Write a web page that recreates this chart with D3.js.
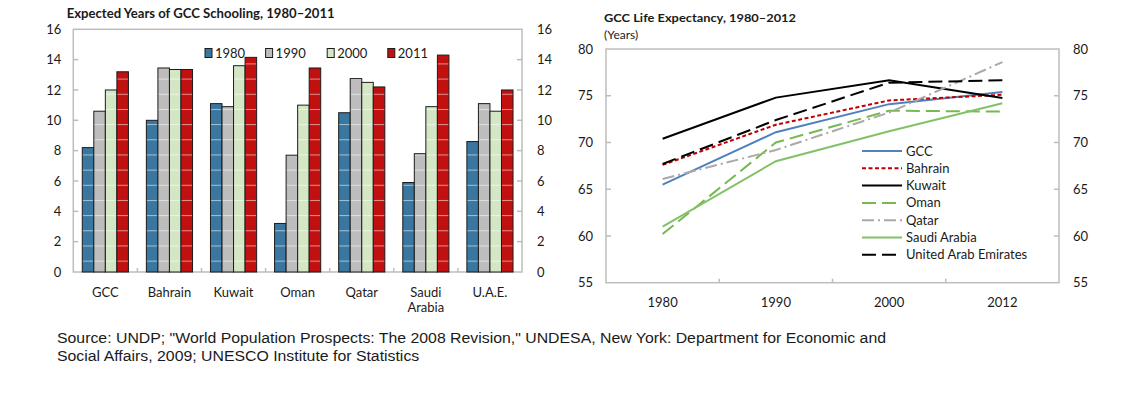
<!DOCTYPE html>
<html>
<head>
<meta charset="utf-8">
<script src="https://cdn.jsdelivr.net/npm/d3@7/dist/d3.min.js"></script>
<style>
  html, body { margin: 0; padding: 0; background: #fff; }
  svg { display: block; }
  text { font-family: Lato, "Open Sans", sans-serif; fill: #1a1a1a; }
</style>
</head>
<body>
<svg id="chart" width="1137" height="394"></svg>
<script>
// ---------- Data: Expected years of schooling ----------
const categories = ["GCC", "Bahrain", "Kuwait", "Oman", "Qatar", "Saudi Arabia", "U.A.E."];
const schoolSeries = ["1980", "1990", "2000", "2011"];
const school1980 = [8.2, 10.0, 11.1, 3.2, 10.5, 5.9, 8.6];
const school1990 = [10.6, 13.45, 10.9, 7.7, 12.75, 7.8, 11.1];
const school2000 = [12.0, 13.35, 13.6, 11.0, 12.5, 10.9, 10.6];
const school2011 = [13.2, 13.35, 14.15, 13.45, 12.2, 14.3, 12.0];
const schoolTicks = [0, 2, 4, 6, 8, 10, 12, 14, 16];

// ---------- Data: Life expectancy ----------
const leYears = ["1980", "1990", "2000", "2012"];
const leGCC     = [65.5, 71.1, 74.1, 75.4];
const leBahrain = [67.6, 71.9, 74.5, 75.1];
const leKuwait  = [70.4, 74.8, 76.65, 74.75];
const leOman    = [60.2, 70.0, 73.4, 73.3];
const leQatar   = [66.1, 69.2, 73.2, 78.6];
const leSaudi   = [61.0, 68.0, 71.2, 74.2];
const leUAE     = [67.7, 72.4, 76.4, 76.65];
const leTicks = [55, 60, 65, 70, 75, 80];

const svg = d3.select("#chart");
const frameColor = "#bdbdbd";
const fs = 13;

// =============== LEFT: bar chart ===============
const L = { left: 73.3, right: 522, top: 29.3, bottom: 272 };
const x0 = d3.scaleBand().domain(categories).range([L.left, L.right]).paddingInner(0.28).paddingOuter(0.14);
const x1 = d3.scaleBand().domain(schoolSeries).range([0, x0.bandwidth()]).padding(0);
const yL = d3.scaleLinear().domain([0, 16]).range([L.bottom, L.top]);
const barColors = { "1980": "#3a77a0", "1990": "#bdbdbd", "2000": "#d4e7c4", "2011": "#c0100f" };
const schoolData = { "1980": school1980, "1990": school1990, "2000": school2000, "2011": school2011 };

const defs = svg.append("defs");
const unitH = yL(0) - yL(1);
schoolSeries.forEach(s => {
  const p = defs.append("pattern").attr("id", "pat" + s)
    .attr("patternUnits", "userSpaceOnUse")
    .attr("x", 0).attr("y", yL(0.75))
    .attr("width", 20).attr("height", unitH);
  p.append("rect").attr("width", 20).attr("height", unitH).attr("fill", barColors[s]);
  p.append("rect").attr("x", 0).attr("y", 0).attr("width", 20).attr("height", 1)
    .attr("fill", "#ffffff").attr("opacity", 0.55);
});

const gL = svg.append("g");
gL.append("rect").attr("x", L.left).attr("y", L.top)
  .attr("width", L.right - L.left).attr("height", L.bottom - L.top)
  .attr("fill", "none").attr("stroke", frameColor).attr("stroke-width", 1.5);

schoolTicks.filter(t => t > 0 && t < 16).forEach(t => {
  gL.append("line").attr("x1", L.left).attr("x2", L.left + 5).attr("y1", yL(t)).attr("y2", yL(t))
    .attr("stroke", frameColor).attr("stroke-width", 1.5);
  gL.append("line").attr("x1", L.right - 5).attr("x2", L.right).attr("y1", yL(t)).attr("y2", yL(t))
    .attr("stroke", frameColor).attr("stroke-width", 1.5);
});
categories.slice(1).forEach(c => {
  const xb = x0(c) - x0.step() * x0.paddingInner() / 2;
  gL.append("line").attr("x1", xb).attr("x2", xb).attr("y1", L.bottom).attr("y2", L.bottom - 4)
    .attr("stroke", frameColor).attr("stroke-width", 1.5);
});

schoolTicks.forEach(t => {
  gL.append("text").attr("x", L.left - 12).attr("y", yL(t)).attr("dy", "0.35em")
    .attr("text-anchor", "end").attr("font-size", fs).text(t);
  gL.append("text").attr("x", L.right + 15).attr("y", yL(t)).attr("dy", "0.35em")
    .attr("text-anchor", "start").attr("font-size", fs).text(t);
});

categories.forEach((c, i) => {
  const g = gL.append("g").attr("transform", `translate(${x0(c)},0)`);
  schoolSeries.forEach(s => {
    const v = schoolData[s][i];
    g.append("rect")
      .attr("x", x1(s)).attr("width", x1.bandwidth())
      .attr("y", yL(v)).attr("height", yL(0) - yL(v))
      .attr("fill", `url(#pat${s})`)
      .attr("stroke", "#1c1c1c").attr("stroke-width", 1);
  });
});

categories.forEach(c => {
  const cx = x0(c) + x0.bandwidth() / 2;
  const parts = c.split(" ");
  parts.forEach((p, k) => {
    gL.append("text").attr("x", cx).attr("y", 296.5 + k * 15.5)
      .attr("text-anchor", "middle").attr("font-size", fs).text(p);
  });
});

const legX = [205, 265.6, 327.2, 387.8];
schoolSeries.forEach((s, k) => {
  gL.append("rect").attr("x", legX[k]).attr("y", 48.5).attr("width", 7).attr("height", 9)
    .attr("fill", barColors[s]).attr("stroke", "#1c1c1c").attr("stroke-width", 1);
  gL.append("text").attr("x", legX[k] + 10).attr("y", 53).attr("dy", "0.35em")
    .attr("font-size", fs).text(s);
});

gL.append("text").attr("x", 66.7).attr("y", 17.5)
  .attr("font-size", 12.5).attr("font-weight", "bold")
  .attr("textLength", 268).attr("lengthAdjust", "spacingAndGlyphs")
  .text("Expected Years of GCC Schooling, 1980\u20132011");

// =============== RIGHT: line chart ===============
const R = { left: 606, right: 1059, top: 49, bottom: 282.7 };
const xR = d3.scaleBand().domain(leYears).range([R.left, R.right]).padding(0);
const yR = d3.scaleLinear().domain([55, 80]).range([R.bottom, R.top]);
const gR = svg.append("g");

gR.append("rect").attr("x", R.left).attr("y", R.top)
  .attr("width", R.right - R.left).attr("height", R.bottom - R.top)
  .attr("fill", "none").attr("stroke", frameColor).attr("stroke-width", 1.5);
leTicks.filter(t => t > 55 && t < 80).forEach(t => {
  gR.append("line").attr("x1", R.left).attr("x2", R.left + 5).attr("y1", yR(t)).attr("y2", yR(t))
    .attr("stroke", frameColor).attr("stroke-width", 1.5);
  gR.append("line").attr("x1", R.right - 5).attr("x2", R.right).attr("y1", yR(t)).attr("y2", yR(t))
    .attr("stroke", frameColor).attr("stroke-width", 1.5);
});
leYears.slice(1).forEach(yv => {
  gR.append("line").attr("x1", xR(yv)).attr("x2", xR(yv)).attr("y1", R.bottom).attr("y2", R.bottom - 4)
    .attr("stroke", frameColor).attr("stroke-width", 1.5);
});
leTicks.forEach(t => {
  gR.append("text").attr("x", R.left - 13).attr("y", yR(t)).attr("dy", "0.35em")
    .attr("text-anchor", "end").attr("font-size", fs).text(t);
  gR.append("text").attr("x", R.right + 14).attr("y", yR(t)).attr("dy", "0.35em")
    .attr("text-anchor", "start").attr("font-size", fs).text(t);
});
leYears.forEach(yv => {
  gR.append("text").attr("x", xR(yv) + xR.bandwidth() / 2).attr("y", 306.5)
    .attr("text-anchor", "middle").attr("font-size", fs).text(yv);
});

const series = [
  { name: "GCC", values: leGCC, color: "#4f81bd", dash: null },
  { name: "Bahrain", values: leBahrain, color: "#c00000", dash: "4,2.5" },
  { name: "Kuwait", values: leKuwait, color: "#000000", dash: null },
  { name: "Oman", values: leOman, color: "#77b852", dash: "14,6" },
  { name: "Qatar", values: leQatar, color: "#a9a9a9", dash: "12,4,2,4" },
  { name: "Saudi Arabia", values: leSaudi, color: "#84c06a", dash: null },
  { name: "United Arab Emirates", values: leUAE, color: "#000000", dash: "14,6" }
];
const line = d3.line()
  .x((d, i) => xR(leYears[i]) + xR.bandwidth() / 2)
  .y(d => yR(d));
series.forEach(s => {
  gR.append("path").datum(s.values).attr("d", line)
    .attr("fill", "none").attr("stroke", s.color).attr("stroke-width", 2)
    .attr("stroke-dasharray", s.dash);
});

series.forEach((s, k) => {
  const ly = 151 + k * 17.3;
  gR.append("line").attr("x1", 862).attr("x2", 902).attr("y1", ly).attr("y2", ly)
    .attr("stroke", s.color).attr("stroke-width", 2).attr("stroke-dasharray", s.dash);
  gR.append("text").attr("x", 906).attr("y", ly).attr("dy", "0.35em")
    .attr("font-size", fs).text(s.name);
});

gR.append("text").attr("x", 604).attr("y", 21.5)
  .attr("font-size", 11.5).attr("font-weight", "bold")
  .attr("textLength", 192).attr("lengthAdjust", "spacingAndGlyphs")
  .text("GCC Life Expectancy, 1980\u20132012");
gR.append("text").attr("x", 604).attr("y", 38.5)
  .attr("font-size", 12).text("(Years)");

// =============== Source ===============
const src = svg.append("g");
const s1 = src.append("text").attr("x", 57).attr("y", 343)
  .style("font-family", "'Liberation Sans', Arial, sans-serif").attr("font-size", 14)
  .text("Source: UNDP; \"World Population Prospects: The 2008  Revision,\" UNDESA, New York: Department for Economic and");
const s2 = src.append("text").attr("x", 57).attr("y", 361)
  .style("font-family", "'Liberation Sans', Arial, sans-serif").attr("font-size", 14)
  .text("Social Affairs, 2009; UNESCO  Institute for Statistics");
const w1 = s1.node().getComputedTextLength();
const ratio = 829 / w1;
s1.attr("textLength", 829).attr("lengthAdjust", "spacingAndGlyphs");
s2.attr("textLength", s2.node().getComputedTextLength() * ratio).attr("lengthAdjust", "spacingAndGlyphs");
</script>
</body>
</html>
